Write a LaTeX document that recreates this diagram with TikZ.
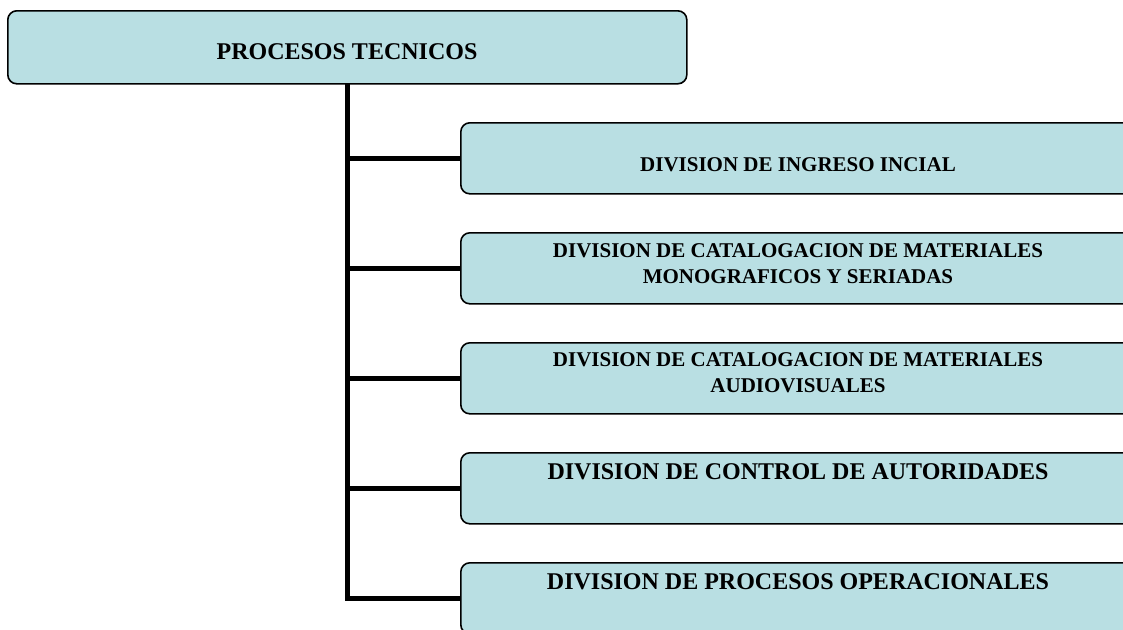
\documentclass[tikz,border=0pt]{standalone}
\usepackage{fontspec}
\setmainfont{Liberation Serif}
\usetikzlibrary{backgrounds}
\definecolor{boxfill}{RGB}{185,223,227}
\begin{document}
\begin{tikzpicture}[x=1pt,y=-1pt,
  box/.style={draw=black,line width=1.6pt,fill=boxfill,rounded corners=9pt,
    minimum height=71pt,inner sep=0pt,anchor=north west},
  topbox/.style={box,minimum width=679pt,minimum height=73pt},
  divbox/.style={box,minimum width=680pt},
  conn/.style={line width=5pt,line join=miter,line cap=rect},
  bigtxt/.style={font=\fontsize{24}{28}\selectfont\bfseries,inner sep=0pt},
  smalltxt/.style={font=\fontsize{21}{26}\selectfont\bfseries,inner sep=0pt,align=center}]
\useasboundingbox (0,0) rectangle (1123,629);
\clip (0,0) rectangle (1123,629);
% boxes
\node[topbox] (top) at (7,10) {};
\node[divbox] (b1) at (460,122) {};
\node[divbox] (b2) at (460,232) {};
\node[divbox] (b3) at (460,342) {};
\node[divbox] (b4) at (460,452) {};
\node[divbox] (b5) at (460,562) {};
% connectors (behind the boxes)
\begin{scope}[on background layer]
\draw[conn] (top.south) -- (top.south |- b5.west) -- (b5.west);
\draw[conn] (top.south |- b1.west) -- (b1.west);
\draw[conn] (top.south |- b2.west) -- (b2.west);
\draw[conn] (top.south |- b3.west) -- (b3.west);
\draw[conn] (top.south |- b4.west) -- (b4.west);
\end{scope}
% texts
\node[bigtxt,anchor=base] (ttop) at (347,59) {PROCESOS TECNICOS};
\node[smalltxt,anchor=base] (t1) at (798,171) {DIVISION DE INGRESO INCIAL};
\node[smalltxt,anchor=north] (t2) at (798,243) {DIVISION DE CATALOGACION DE MATERIALES\\MONOGRAFICOS Y SERIADAS};
\node[smalltxt,anchor=north] (t3) at (798,352) {DIVISION DE CATALOGACION DE MATERIALES\\AUDIOVISUALES};
\node[bigtxt,anchor=base] (t4) at (798,479) {DIVISION DE CONTROL DE AUTORIDADES};
\node[bigtxt,anchor=base] (t5) at (798,589) {DIVISION DE PROCESOS OPERACIONALES};
\end{tikzpicture}
\end{document}
